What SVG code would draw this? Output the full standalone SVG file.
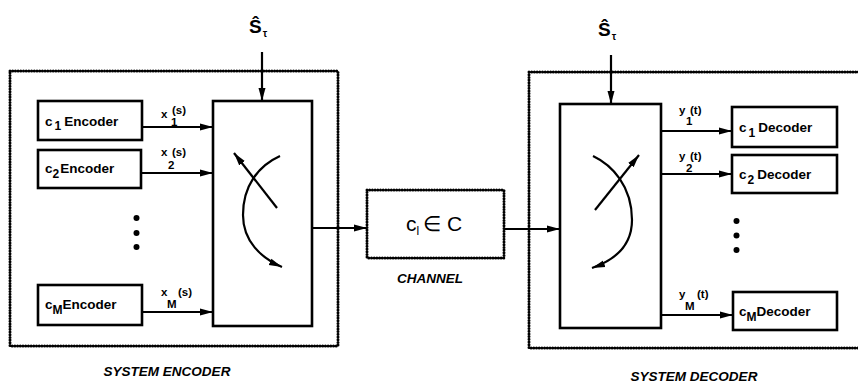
<svg xmlns="http://www.w3.org/2000/svg" width="858" height="384" viewBox="0 0 858 384">
<style>
.box{fill:#fff;stroke:#000;stroke-width:2.6}
.dot{fill:none;stroke:#000;stroke-width:3;stroke-linecap:round;stroke-dasharray:0 2.7}
.ln{fill:none;stroke:#000;stroke-width:2.2}
.t{font-family:"Liberation Sans",Arial,sans-serif;font-weight:bold;fill:#000}
.lbl{font-size:13.5px}
.sub{font-size:12px}
.sm{font-size:11.5px}
.cap{font-size:13.5px;font-style:italic}
</style>
<defs>
<marker id="ah" markerUnits="userSpaceOnUse" markerWidth="14" markerHeight="10" viewBox="0 0 14 10" refX="13" refY="5" orient="auto">
<path d="M0,1.5 L13,5 L0,8.5 Z" fill="#000"/>
</marker>
</defs>
<rect width="858" height="384" fill="#fff"/>

<g id="system-encoder">
<rect class="dot" x="10" y="71" width="328" height="275"/>
<text class="t cap" x="167" y="376" text-anchor="middle">SYSTEM ENCODER</text>
</g>
<g id="system-decoder">
<rect class="dot" x="529" y="72" width="345" height="276"/>
<text class="t cap" x="694" y="381" text-anchor="middle">SYSTEM DECODER</text>
</g>

<g id="enc1"><rect class="box" x="38" y="101" width="104" height="39"/>
<text class="t lbl" x="45" y="126">c<tspan class="sub" dy="4" dx="2">1</tspan><tspan dy="-4" dx="3">Encoder</tspan></text></g>
<g id="enc2"><rect class="box" x="38" y="150" width="103" height="38"/>
<text class="t lbl" x="45" y="173">c<tspan class="sub" dy="5">2</tspan><tspan dy="-5" dx="1">Encoder</tspan></text></g>
<g id="encM"><rect class="box" x="38" y="285" width="104" height="40"/>
<text class="t lbl" x="45" y="309">c<tspan class="sub" dy="5">M</tspan><tspan dy="-5">Encoder</tspan></text></g>
<g id="enc-dots"><circle cx="136.5" cy="218" r="3"/><circle cx="136.5" cy="233" r="3"/><circle cx="136.5" cy="247" r="3"/></g>

<g id="enc-switch">
<rect class="box" x="213" y="101" width="99" height="225"/>
<path class="ln" d="M277,208 L234,153" marker-end="url(#ah)"/>
<path class="ln" d="M280,156 C258,166 243,186 243,215 C243,241 261,258 282,267" marker-end="url(#ah)"/>
</g>
<g id="enc-s"><text class="t" font-size="19" x="249" y="33">Ŝ<tspan font-size="10" dy="4" dx="1">τ</tspan></text></g>

<g id="channel">
<rect class="dot" x="367" y="190" width="137" height="68"/>
<text font-family="Liberation Sans,Arial,sans-serif" font-size="21" fill="#000" x="406" y="231">c<tspan font-size="12" dy="4">l</tspan><tspan dy="-4" dx="4">∈ C</tspan></text>
<text class="t cap" x="430" y="283" text-anchor="middle">CHANNEL</text>
</g>

<g id="dec-switch">
<rect class="box" x="560" y="104" width="101" height="224"/>
<path class="ln" d="M595,210 L639,155" marker-end="url(#ah)"/>
<path class="ln" d="M593,156 C612,165 632,186 632,220 C632,245 615,260 592,268" marker-end="url(#ah)"/>
</g>
<g id="dec-s"><text class="t" font-size="19" x="598" y="36">Ŝ<tspan font-size="10" dy="4" dx="1">τ</tspan></text></g>

<g id="dec1"><rect class="box" x="732" y="107" width="105" height="40"/>
<text class="t lbl" x="739" y="132">c<tspan class="sub" dy="5" dx="2">1</tspan><tspan dy="-5" dx="3">Decoder</tspan></text></g>
<g id="dec2"><rect class="box" x="732" y="155" width="105" height="38"/>
<text class="t lbl" x="739" y="179">c<tspan class="sub" dy="5" dx="1">2</tspan><tspan dy="-5" dx="3">Decoder</tspan></text></g>
<g id="decM"><rect class="box" x="733" y="292" width="104" height="38"/>
<text class="t lbl" x="739" y="316">c<tspan class="sub" dy="5">M</tspan><tspan dy="-5">Decoder</tspan></text></g>
<g id="dec-dots"><circle cx="736.5" cy="221" r="3"/><circle cx="736.5" cy="235.5" r="3"/><circle cx="736.5" cy="250" r="3"/></g>

<g id="connectors">
<path class="ln" d="M262,52 L262,101" marker-end="url(#ah)"/>
<path class="ln" d="M142,127 L213,127" marker-end="url(#ah)"/>
<path class="ln" d="M141,173 L213,173" marker-end="url(#ah)"/>
<path class="ln" d="M142,312 L213,312" marker-end="url(#ah)"/>
<path class="ln" d="M312,228 L367,228" marker-end="url(#ah)"/>
<path class="ln" d="M504,229 L560,229" marker-end="url(#ah)"/>
<path class="ln" d="M611,55 L611,104" marker-end="url(#ah)"/>
<path class="ln" d="M661,131 L732,131" marker-end="url(#ah)"/>
<path class="ln" d="M661,174 L732,174" marker-end="url(#ah)"/>
<path class="ln" d="M661,315 L733,315" marker-end="url(#ah)"/>
</g>

<g id="labels">
<text class="t sm" x="161" y="118">x</text><text class="t sm" x="172" y="114">(s)</text><text class="t sm" x="171" y="126">1</text>
<text class="t sm" x="161" y="156">x</text><text class="t sm" x="172" y="156">(s)</text><text class="t sm" x="168" y="169">2</text>
<text class="t sm" x="161" y="296">x</text><text class="t sm" x="178" y="296">(s)</text><text class="t sm" x="167" y="308">M</text>
<text class="t sm" x="679" y="114">y</text><text class="t sm" x="690" y="114">(t)</text><text class="t sm" x="686" y="125">1</text>
<text class="t sm" x="679" y="160">y</text><text class="t sm" x="690" y="160">(t)</text><text class="t sm" x="686" y="172">2</text>
<text class="t sm" x="679" y="298">y</text><text class="t sm" x="697" y="298">(t)</text><text class="t sm" x="685" y="310">M</text>
</g>
</svg>
